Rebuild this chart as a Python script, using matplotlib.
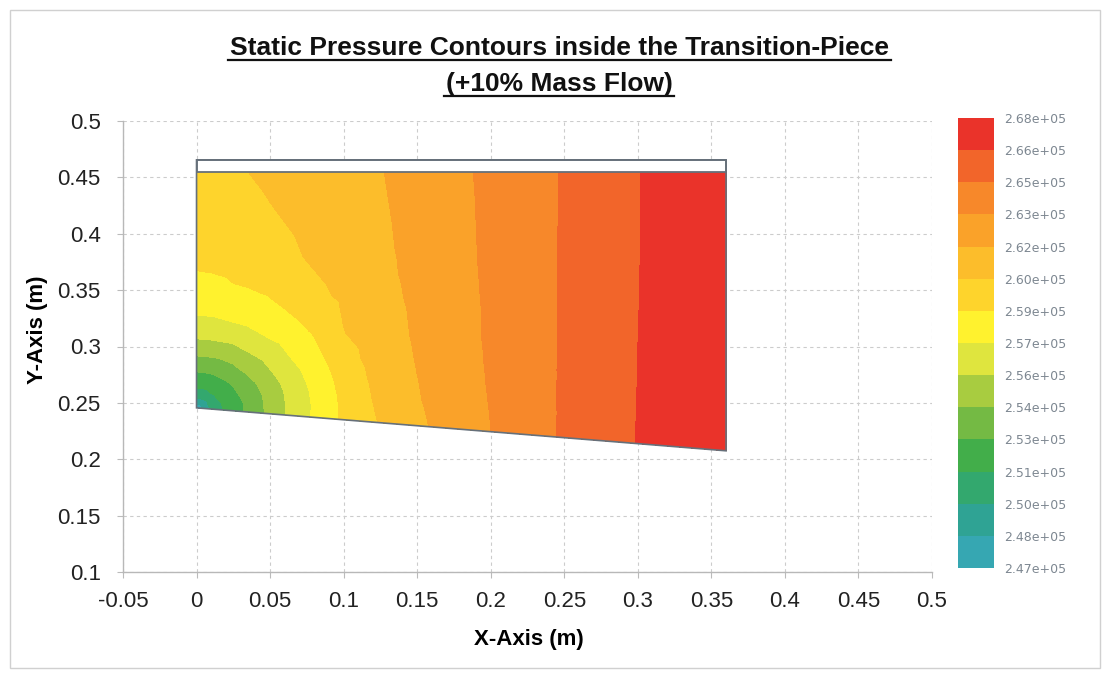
from matplotlib import pyplot as plt
from matplotlib import tri as mtri
from matplotlib import font_manager
from matplotlib.colors import ListedColormap, BoundaryNorm
from matplotlib.lines import Line2D
from matplotlib.patches import Rectangle, Polygon
from matplotlib.ticker import FuncFormatter
import numpy as np

# transition-piece geometry (m)
duct_x = [0.0, 0.36]
bottom_y = [0.2456, 0.2075]
top_y = 0.455
strip_top = 0.4655

# pressure samples (units of 1e5 Pa)
# one list per x station, from the bottom wall (eta=0) up to the top (eta=1)
x_nodes = [0, 0.01, 0.02, 0.035, 0.05, 0.065, 0.08, 0.1, 0.125, 0.15, 0.2, 0.25, 0.3, 0.36]
eta_nodes = [0, 0.05, 0.1, 0.17, 0.25, 0.35, 0.5, 0.6, 0.7, 1.0]
p_columns = [
  [2.475, 2.504, 2.520, 2.5333, 2.552, 2.571, 2.5855, 2.591, 2.5929, 2.5994],
  [2.5025, 2.512, 2.5212, 2.5339, 2.5523, 2.571, 2.5856, 2.5915, 2.5947, 2.601],
  [2.518, 2.5215, 2.526, 2.538, 2.5536, 2.5724, 2.5865, 2.5925, 2.5964, 2.6026],
  [2.5328, 2.5336, 2.5378, 2.5478, 2.560, 2.5743, 2.5885, 2.597, 2.599, 2.605],
  [2.5493, 2.550, 2.552, 2.5585, 2.567, 2.5806, 2.5915, 2.5999, 2.6017, 2.6074],
  [2.5645, 2.5646, 2.5655, 2.5697, 2.5768, 2.5855, 2.5962, 2.6024, 2.604, 2.6098],
  [2.577, 2.5767, 2.5776, 2.5806, 2.5855, 2.5914, 2.6012, 2.605, 2.6075, 2.6122],
  [2.5925, 2.5928, 2.5935, 2.5956, 2.5992, 2.6045, 2.6076, 2.6102, 2.6118, 2.6154],
  [2.6059, 2.6072, 2.6085, 2.6099, 2.6115, 2.6131, 2.6153, 2.6166, 2.6175, 2.6194],
  [2.6173, 2.618, 2.6189, 2.6196, 2.6206, 2.6217, 2.6227, 2.6236, 2.6239, 2.6253],
  [2.635, 2.6352, 2.6355, 2.636, 2.6364, 2.6368, 2.637, 2.6373, 2.6375, 2.6381],
  [2.6517, 2.6517, 2.6516, 2.6516, 2.6515, 2.6514, 2.6513, 2.6513, 2.6512, 2.6511],
  [2.6655, 2.6654, 2.6653, 2.6652, 2.6651, 2.665, 2.6648, 2.6647, 2.6646, 2.6645],
  [2.679, 2.679, 2.679, 2.679, 2.679, 2.679, 2.679, 2.679, 2.679, 2.679],
]

levels = [247000, 248500, 250000, 251500, 253000, 254500, 256000, 257500,
          259000, 260500, 262000, 263500, 265000, 266500, 268000]
level_labels = ['2.47e+05', '2.48e+05', '2.50e+05', '2.51e+05', '2.53e+05',
                '2.54e+05', '2.56e+05', '2.57e+05', '2.59e+05', '2.60e+05',
                '2.62e+05', '2.63e+05', '2.65e+05', '2.66e+05', '2.68e+05']
band_colours = ['#36a7b2', '#2fa394', '#33a86e', '#42ae4a', '#74ba44', '#a8cc40',
                '#dfe53e', '#fff22e', '#fed42c', '#fcbd2b', '#faa229', '#f7882a',
                '#f2652a', '#ea332a']

x_ticks = [-0.05, 0, 0.05, 0.1, 0.15, 0.2, 0.25, 0.3, 0.35, 0.4, 0.45, 0.5]
y_ticks = [0.1, 0.15, 0.2, 0.25, 0.3, 0.35, 0.4, 0.45, 0.5]

title_lines = ['Static Pressure Contours inside the Transition-Piece', '(+10% Mass Flow)']

names = {f.name for f in font_manager.fontManager.ttflist}
if 'Liberation Sans Narrow' in names:
  titleFont, titleSize = 'Liberation Sans Narrow', 22
else:
  titleFont, titleSize = 'Liberation Sans', 19
plt.rcParams['font.family'] = ['Liberation Sans', 'DejaVu Sans']

W, H = 1107, 674
fig = plt.figure(figsize=(W / 100., H / 100.), dpi=100)

# light frame round the whole chart
fig.add_artist(Rectangle((10. / W, 6. / H), 1090. / W, 658. / H, transform=fig.transFigure,
                         fill=False, edgecolor='#d0d0d0', lw=1.0))

ax = fig.add_axes([123. / W, 1 - 572. / H, 809. / W, 451. / H])
ax.set_xlim(-0.05, 0.5)
ax.set_ylim(0.1, 0.5)
ax.set_xticks(x_ticks)
ax.set_yticks(y_ticks)
fmt = FuncFormatter(lambda v, pos: '%g' % round(v, 3))
ax.xaxis.set_major_formatter(fmt)
ax.yaxis.set_major_formatter(fmt)
ax.tick_params(axis='both', labelsize=16, colors='#bbbbbb', labelcolor='#222222', length=4, width=0.8)
ax.tick_params(axis='x', pad=10)
ax.tick_params(axis='y', pad=12)
ax.grid(True, color='#cccccc', linestyle=(0, (3, 3)), linewidth=0.8)
ax.set_axisbelow(True)
for side in ('top', 'right'):
  ax.spines[side].set_visible(False)
for side in ('left', 'bottom'):
  ax.spines[side].set_color('#b8b8b8')
  ax.spines[side].set_linewidth(1.0)

# structured mesh of the duct from the sample table, two triangles per cell
xs = np.array(x_nodes)
eta = np.array(eta_nodes)
yb = np.interp(xs, duct_x, bottom_y)
X = np.tile(xs, (len(eta), 1))
Y = yb[None, :] + eta[:, None] * (top_y - yb[None, :])
P = np.array(p_columns).T * 1e5
nx = len(xs)
cells = []
for j in range(len(eta) - 1):
  for i in range(nx - 1):
    a = j * nx + i
    cells.append([a, a + 1, a + nx + 1])
    cells.append([a, a + nx + 1, a + nx])

triang = mtri.Triangulation(X.ravel(), Y.ravel(), cells)

cmap = ListedColormap(band_colours)
norm = BoundaryNorm(levels, cmap.N)
cs = ax.tricontourf(triang, P.ravel(), levels=levels, cmap=cmap, norm=norm, zorder=2)

# white strip on top and the duct outline
ax.add_patch(Rectangle((duct_x[0], top_y), duct_x[1] - duct_x[0], strip_top - top_y,
                       facecolor='white', edgecolor='#66707a', lw=1.3, zorder=3))
ax.add_patch(Polygon([(duct_x[0], bottom_y[0]), (duct_x[1], bottom_y[1]),
                      (duct_x[1], strip_top), (duct_x[0], strip_top)],
                     closed=True, fill=False, edgecolor='#66707a', lw=1.2, zorder=3))

fig.text(529. / W, 1 - 640. / H, 'X-Axis (m)', ha='center', va='center', fontsize=16, fontweight='bold')
fig.text(38. / W, 1 - 330. / H, 'Y-Axis (m)', ha='center', va='center', rotation=90, fontsize=16, fontweight='bold')

# colour legend
cax = fig.add_axes([958. / W, 1 - 568. / H, 36. / W, 450. / H])
cbar = fig.colorbar(cs, cax=cax, ticks=levels)
cbar.ax.set_yticklabels(level_labels)
cbar.outline.set_visible(False)
cbar.ax.tick_params(length=0, pad=7, labelsize=9, labelcolor='#7d8791')
for lab in cbar.ax.get_yticklabels():
  lab.set_family('DejaVu Sans')

# underlined two-line title
titles = []
for line, base in zip(title_lines, (55., 91.)):
  t = fig.text(559. / W, 1 - base / H, line, ha='center', va='baseline',
               fontsize=titleSize, fontweight='bold', family=[titleFont, 'DejaVu Sans'], color='#111111')
  titles.append((t, base))
fig.canvas.draw()
renderer = fig.canvas.get_renderer()
for t, base in titles:
  bb = t.get_window_extent(renderer)
  yline = 1 - (base + 5.) / H
  fig.add_artist(Line2D([(bb.x0 - 2) / W, (bb.x1 + 2) / W], [yline, yline],
                        transform=fig.transFigure, color='#111111', lw=1.6))

fig.savefig('out.png', dpi=100)
